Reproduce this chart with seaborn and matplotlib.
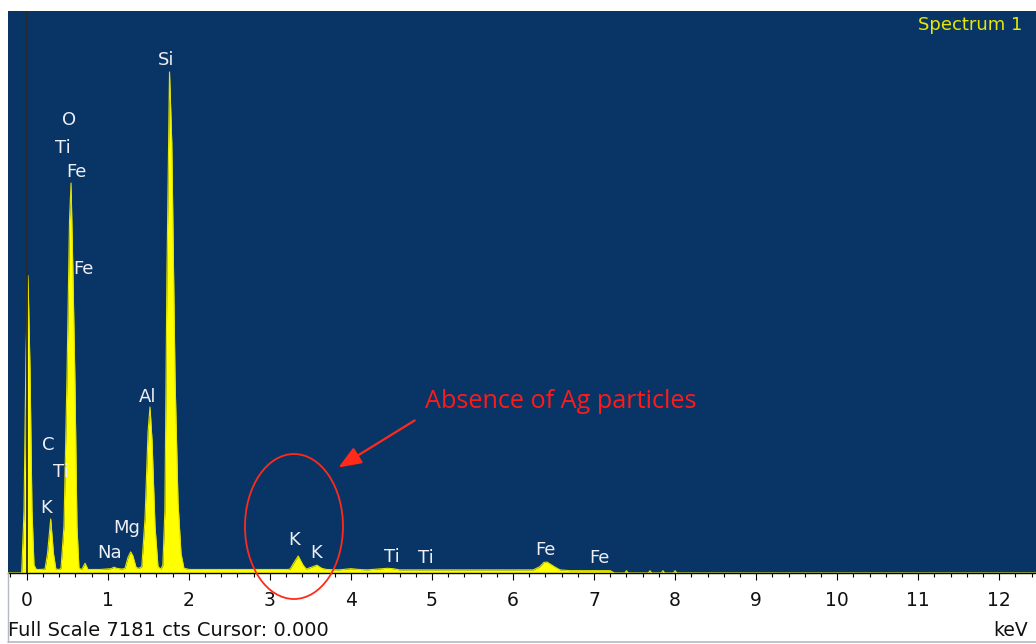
import numpy as np
import pandas as pd
import matplotlib
matplotlib.use("Agg")
import matplotlib.pyplot as plt
import seaborn as sns
from matplotlib.patches import Ellipse, FancyArrowPatch
from matplotlib.lines import Line2D
from matplotlib.ticker import MultipleLocator

# ---------------- data ----------------
energy_kev = [
    -0.23, -0.062, -0.033, -0.009, 0.016, 0.041, 0.065, 0.09, 0.12, 0.16,
    0.226, 0.257, 0.296, 0.33, 0.36, 0.40,
    0.423, 0.46, 0.497, 0.528, 0.547, 0.571, 0.596, 0.62, 0.645, 0.68, 0.72, 0.756,
    0.905, 1.04, 1.077, 1.11, 1.175,
    1.213, 1.25, 1.283, 1.31, 1.35, 1.385,
    1.42, 1.46, 1.497, 1.521, 1.546, 1.583, 1.62, 1.657,
    1.68, 1.705, 1.73, 1.762, 1.79, 1.83, 1.867, 1.904, 1.94, 2.01,
    2.5, 3.0, 3.22,
    3.25, 3.29, 3.35, 3.41, 3.45, 3.58, 3.64, 3.70, 3.85,
    4.0, 4.1, 4.2, 4.45, 4.52, 4.6, 5.0, 5.5, 6.0, 6.25,
    6.33, 6.38, 6.42, 6.51, 6.58, 6.7, 7.2, 7.25, 7.27,
    7.38, 7.40, 7.42, 7.67, 7.69, 7.71, 7.83, 7.85, 7.87, 7.98, 8.0, 8.02, 12.5,
]
counts = [
    0, 0, 800, 2800, 3800, 2600, 800, 100, 45, 45,
    50, 250, 690, 250, 50, 45,
    60, 600, 2500, 4500, 4983, 3800, 2400, 600, 60, 45, 125, 45,
    45, 55, 75, 60, 50,
    60, 200, 270, 220, 70, 60,
    80, 700, 1800, 2121, 1700, 600, 80, 50,
    100, 800, 3800, 6402, 5500, 2500, 900, 250, 60, 45,
    45, 45, 45,
    50, 120, 217, 100, 50, 100, 60, 45, 40,
    55, 45, 40, 60, 55, 40, 40, 40, 40, 40,
    80, 135, 140, 80, 40, 30, 30, 0, 0,
    0, 30, 0, 0, 30, 0, 0, 30, 0, 0, 30, 0, 0,
]

label_text = ["Si", "O", "Ti", "Fe", "Fe", "Al", "C", "Ti", "K", "Mg", "Na",
              "K", "K", "Ti", "Ti", "Fe", "Fe"]
label_kev = [1.719, 0.528, 0.448, 0.617, 0.695, 1.490, 0.263, 0.423, 0.238, 1.237, 1.028,
             3.298, 3.570, 4.501, 4.920, 6.401, 7.067]
label_cts = [6491, 5725, 5367, 5060, 3821, 2185, 1572, 1227, 767, 511, 192,
             358, 192, 141, 128, 230, 128]

tick_values = list(range(0, 13))
full_scale = 7181
cursor_kev = 0.0
spectrum_name = "Spectrum 1"
footer_text = "Full Scale 7181 cts Cursor: 0.000"
unit_text = "keV"
note_text = "Absence of Ag particles"

# ---------------- figure ----------------
W, H = 1036, 644
sns.set_theme(style="white")
plt.rcParams["font.family"] = ["DejaVu Sans"]

fig = plt.figure(figsize=(W / 100, H / 100), dpi=100)
fig.patch.set_facecolor("white")
ax = fig.add_axes([8 / W, 71 / H, 1028 / W, 562 / H])
ax.set_facecolor("#083566")

df = pd.DataFrame({"keV": energy_kev, "counts": counts})
ax.fill_between(df["keV"], 0, df["counts"], color="#ffff00", lw=0, zorder=2)
sns.lineplot(data=df, x="keV", y="counts", ax=ax, color="#e2e200", lw=0.8,
             estimator=None, sort=False, zorder=3)

ax.axvline(cursor_kev, color="#2b2b2b", lw=1.3, zorder=4)

ax.set_xlim(-0.2307, 12.453)
ax.set_ylim(0, full_scale)
ax.set_xlabel("")
ax.set_ylabel("")
ax.set_yticks([])
ax.set_xticks(tick_values)
ax.set_xticklabels([str(v) for v in tick_values])
ax.xaxis.set_minor_locator(MultipleLocator(0.2))
ax.tick_params(axis="x", which="major", direction="out", length=5.2, width=0.8,
               color="black", pad=8, labelsize=13.5, labelcolor="#111111", bottom=True)
ax.tick_params(axis="x", which="minor", direction="out", length=3, width=0.8,
               color="black", bottom=True)
for s in ["left", "right", "top"]:
    ax.spines[s].set_visible(False)
ax.spines["bottom"].set_color("black")
ax.spines["bottom"].set_linewidth(1.0)
ax.grid(False)

for t, x, y in zip(label_text, label_kev, label_cts):
    ax.text(x, y, t, color="#eeeef4", fontsize=13, ha="center", va="baseline", zorder=5)

ax.text(0.987, 0.966, spectrum_name, transform=ax.transAxes, color="#e8e800",
        fontsize=13, ha="right", va="baseline")

# red annotation
ell = Ellipse((3.298, 594), width=1.209, height=1853, fill=False, edgecolor="#ff2a1a",
              lw=1.3, zorder=6, clip_on=False)
ax.add_patch(ell)
arr = FancyArrowPatch((4.816, 1968), (3.816, 1329), arrowstyle="-|>,head_length=1.4,head_width=0.55",
                      mutation_scale=10, color="#ff2a1a", lw=1.6, zorder=6)
ax.add_patch(arr)
ax.text(4.914, 2112, note_text, color="#ff1a1a", fontsize=18.2, family=["Open Sans", "DejaVu Sans"],
        ha="left", va="baseline", zorder=6)

# bottom panel texts and frame
fig.text(8.5 / W, (H - 636) / H, footer_text, fontsize=14, color="#111111",
         ha="left", va="baseline")
fig.text(1028 / W, (H - 636) / H, unit_text, fontsize=13.5, color="#111111",
         ha="right", va="baseline")
fig.add_artist(Line2D([8 / W, 1], [(H - 642) / H] * 2, color="#b4b9c4", lw=1.2))
fig.add_artist(Line2D([8 / W, 8 / W], [(H - 642) / H, (H - 573) / H], color="#b4b9c4", lw=1.0))

fig.savefig("out.png", dpi=100, facecolor="white")
